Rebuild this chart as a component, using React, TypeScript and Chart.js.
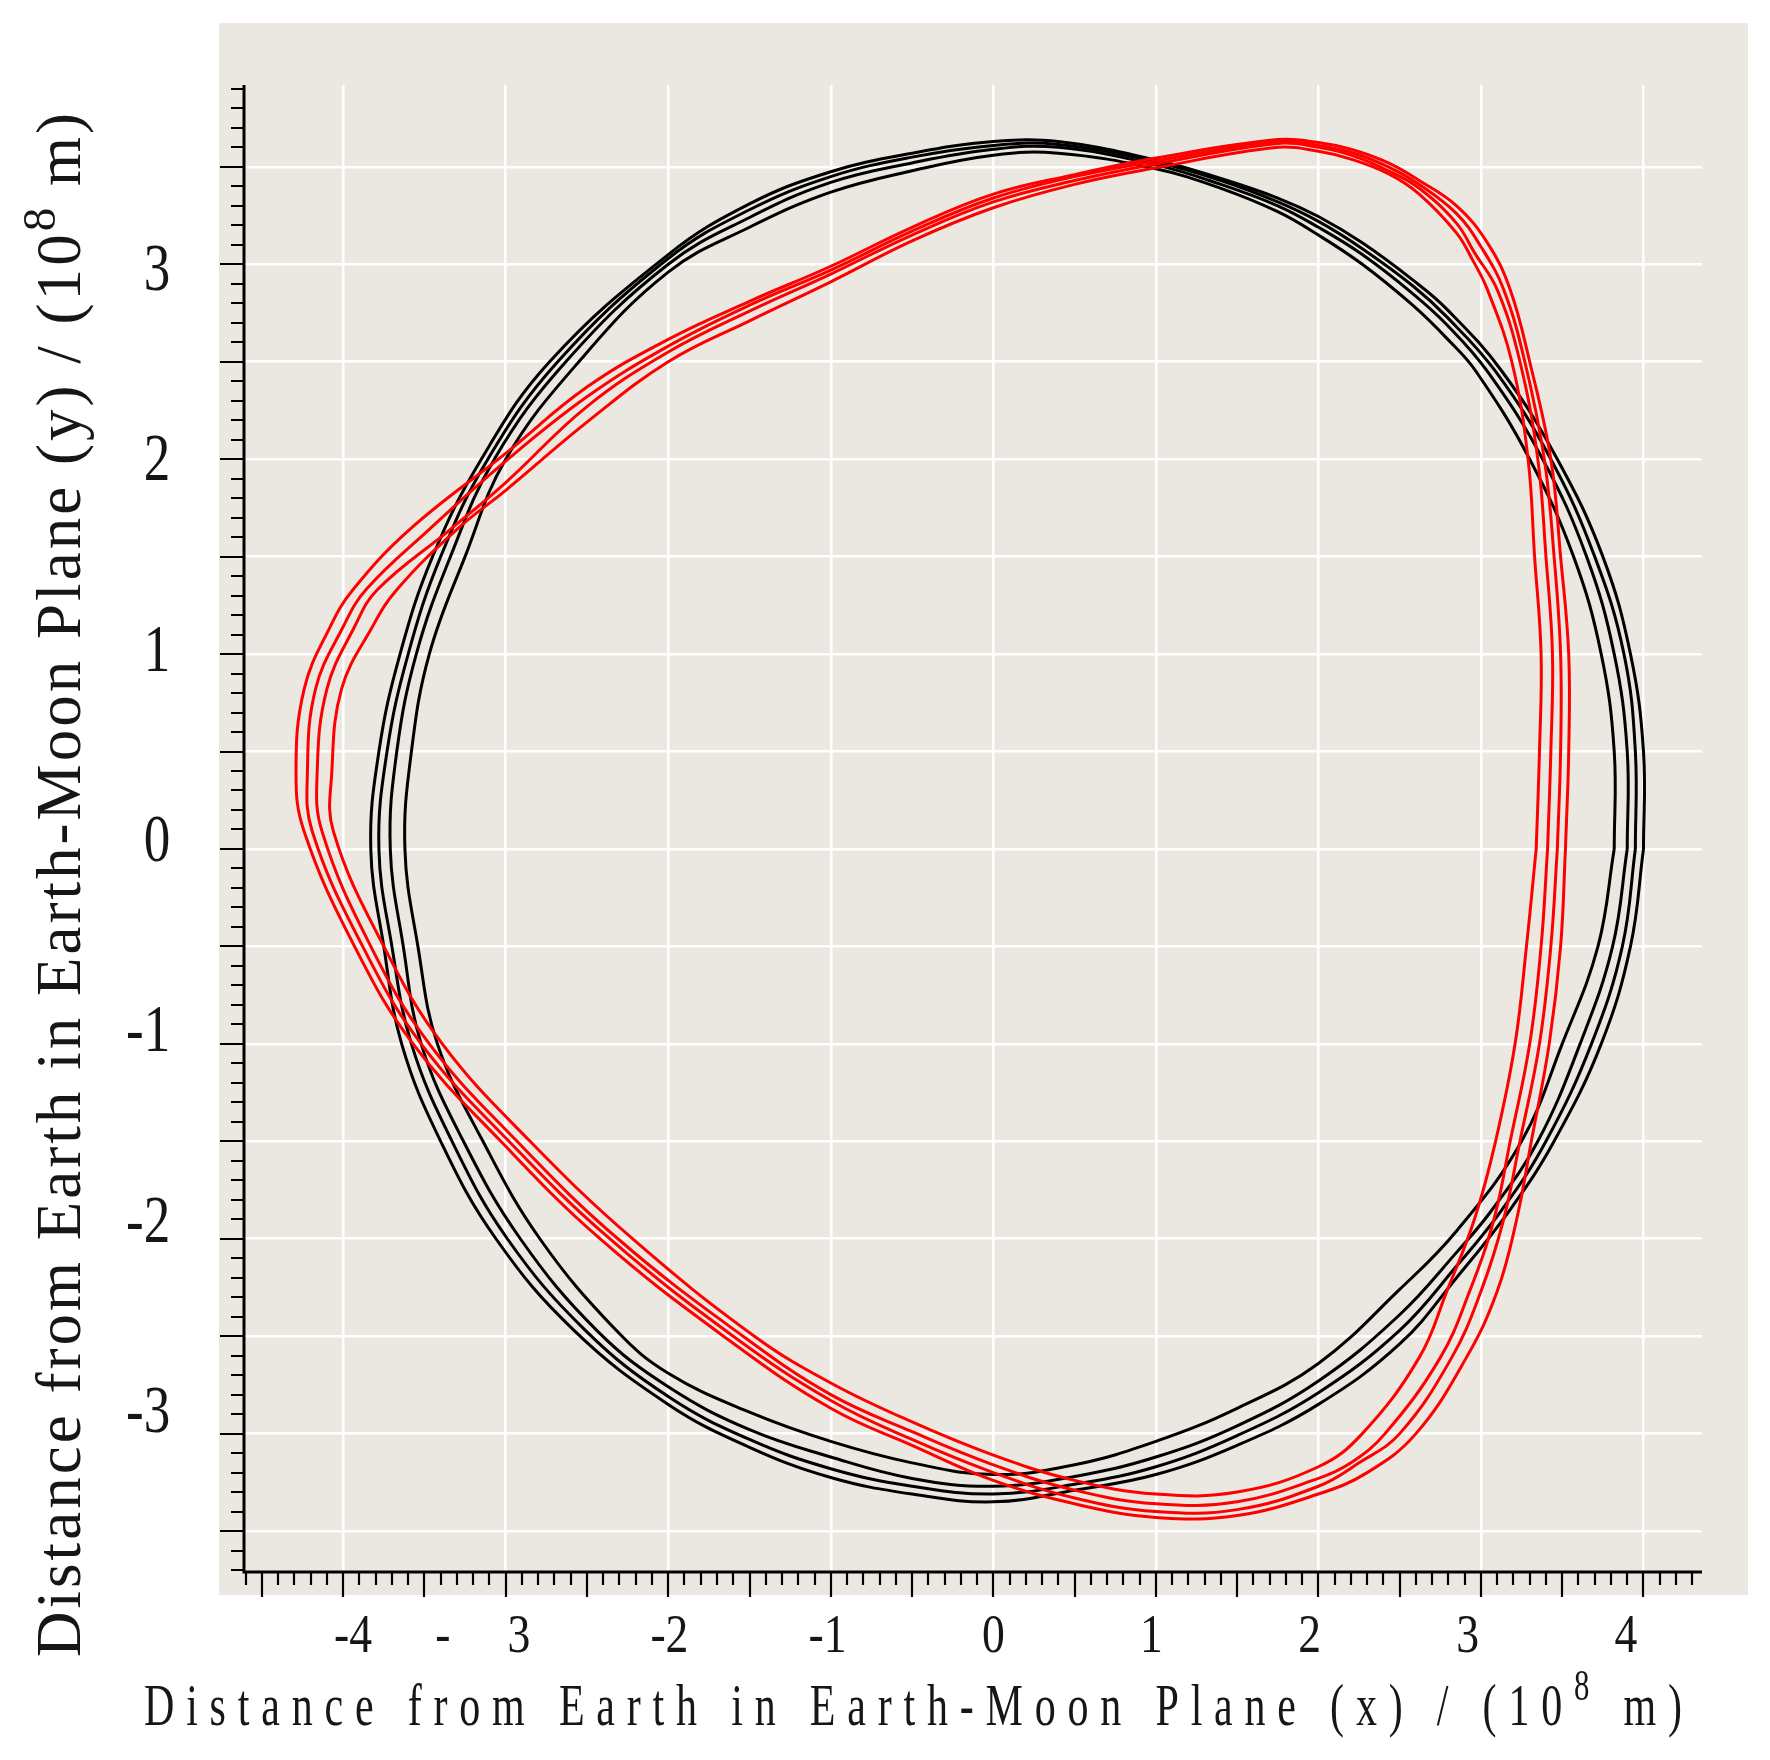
import React, { useEffect, useRef } from "react";
import { Chart, registerables } from "chart.js";

Chart.register(...registerables);

// ---- axis ranges (units of 10^8 m) ----
const xRange = [-4.61, 4.36];
const yRange = [-3.71, 3.92];
const xGridValues = [-4, -3, -2, -1, 0, 1, 2, 3, 4];
const yGridValues = [-3.5, -3, -2.5, -2, -1.5, -1, -0.5, 0, 0.5, 1, 1.5, 2, 2.5, 3, 3.5];
const xTickValues = [-4, -3, -2, -1, 0, 1, 2, 3, 4];
const xTickLabels = ["-4", "-     3", "-2", "-1", "0", "1", "2", "3", "4"];
const yTickValues = [-3, -2, -1, 0, 1, 2, 3];
const yTickLabels = ["-3", "-2", "-1", "0", "1", "2", "3"];
const xTitleParts = ["Distance from Earth in Earth-Moon Plane (x) / (10", "8", " m)"];
const yTitleParts = ["Distance from Earth in Earth-Moon Plane (y) / (10", "8", " m)"];

// ---- black orbit loops (x, y) : outer edge -> inner edge of the band ----
const blackLoopA = [[4.00,0.00],[4.00,0.50],[3.92,1.00],[3.75,1.50],[3.47,2.00],[3.13,2.45],[2.79,2.77],[2.58,2.92],[2.27,3.11],[2.00,3.245],[1.75,3.34],[1.40,3.44],[1.00,3.535],[0.40,3.63],[0.00,3.63],[-0.50,3.57],[-1.00,3.475],[-1.50,3.31],[-2.00,3.05],[-2.73,2.50],[-3.15,2.00],[-3.45,1.50],[-3.65,1.00],[-3.78,0.50],[-3.83,0.00],[-3.75,-0.50],[-3.64,-1.00],[-3.40,-1.50],[-3.06,-2.00],[-2.58,-2.47],[-2.00,-2.85],[-1.50,-3.07],[-1.00,-3.225],[-0.50,-3.31],[0.00,-3.35],[0.50,-3.29],[1.00,-3.21],[1.50,-3.06],[2.00,-2.85],[2.50,-2.54],[2.85,-2.20],[3.18,-1.85],[3.45,-1.50],[3.74,-1.00],[3.92,-0.50],[4.00,0.00]];
const blackLoopB = [[3.95,0.00],[3.95,0.50],[3.88,1.00],[3.70,1.50],[3.43,2.00],[3.09,2.45],[2.79,2.73],[2.58,2.89],[2.27,3.08],[2.00,3.22],[1.75,3.32],[1.40,3.43],[1.00,3.525],[0.40,3.615],[0.00,3.61],[-0.50,3.55],[-1.00,3.45],[-1.50,3.28],[-2.00,3.03],[-2.68,2.50],[-3.11,2.00],[-3.40,1.50],[-3.60,1.00],[-3.73,0.50],[-3.78,0.00],[-3.70,-0.50],[-3.58,-1.00],[-3.33,-1.50],[-2.99,-2.00],[-2.51,-2.47],[-2.00,-2.81],[-1.50,-3.03],[-1.00,-3.18],[-0.50,-3.27],[0.00,-3.31],[0.50,-3.26],[1.00,-3.17],[1.50,-3.01],[2.00,-2.79],[2.50,-2.47],[2.85,-2.14],[3.13,-1.85],[3.40,-1.50],[3.68,-1.00],[3.87,-0.50],[3.95,0.00]];
const blackLoopC = [[3.90,0.00],[3.90,0.50],[3.82,1.00],[3.65,1.50],[3.38,2.00],[3.04,2.45],[2.79,2.69],[2.58,2.85],[2.27,3.05],[2.00,3.19],[1.75,3.30],[1.40,3.41],[1.00,3.51],[0.40,3.60],[0.00,3.59],[-0.50,3.52],[-1.00,3.42],[-1.50,3.24],[-2.00,3.00],[-2.63,2.50],[-3.07,2.00],[-3.34,1.50],[-3.55,1.00],[-3.67,0.50],[-3.71,0.00],[-3.63,-0.50],[-3.52,-1.00],[-3.26,-1.50],[-2.91,-2.00],[-2.44,-2.47],[-2.00,-2.76],[-1.50,-2.98],[-1.00,-3.12],[-0.50,-3.23],[0.00,-3.27],[0.50,-3.22],[1.00,-3.12],[1.50,-2.96],[2.00,-2.73],[2.50,-2.39],[2.85,-2.07],[3.07,-1.85],[3.35,-1.50],[3.61,-1.00],[3.81,-0.50],[3.90,0.00]];
const blackLoopD = [[3.82,0.00],[3.82,0.50],[3.74,1.00],[3.57,1.50],[3.30,2.00],[2.97,2.45],[2.79,2.62],[2.58,2.79],[2.27,3.00],[2.00,3.15],[1.75,3.27],[1.40,3.39],[1.00,3.49],[0.40,3.57],[0.00,3.56],[-0.50,3.48],[-1.00,3.37],[-1.50,3.19],[-2.00,2.96],[-2.55,2.50],[-3.00,2.00],[-3.25,1.50],[-3.47,1.00],[-3.58,0.50],[-3.62,0.00],[-3.54,-0.50],[-3.42,-1.00],[-3.14,-1.50],[-2.79,-2.00],[-2.32,-2.47],[-2.00,-2.69],[-1.50,-2.89],[-1.00,-3.04],[-0.50,-3.15],[0.00,-3.21],[0.50,-3.16],[1.00,-3.04],[1.50,-2.87],[2.00,-2.64],[2.50,-2.26],[2.85,-1.96],[3.25,-1.50],[3.50,-1.00],[3.72,-0.50],[3.82,0.00]];

// ---- red orbit loops (x, y) : outer edge -> inner edge of the band ----
const redLoopA = [[3.52,0.00],[3.54,0.50],[3.54,1.00],[3.49,1.50],[3.43,2.00],[3.30,2.50],[3.18,2.87],[3.04,3.11],[2.85,3.30],[2.62,3.43],[2.43,3.52],[2.20,3.59],[2.00,3.625],[1.75,3.64],[1.00,3.545],[0.50,3.46],[0.00,3.36],[-0.50,3.19],[-1.00,2.99],[-1.50,2.81],[-2.00,2.615],[-2.50,2.37],[-3.00,2.03],[-3.59,1.64],[-3.94,1.33],[-4.08,1.14],[-4.24,0.82],[-4.29,0.39],[-4.24,0.09],[-3.93,-0.50],[-3.57,-1.00],[-3.03,-1.50],[-2.42,-2.00],[-1.66,-2.50],[-1.00,-2.87],[-0.50,-3.06],[0.00,-3.24],[0.50,-3.36],[1.00,-3.43],[1.50,-3.42],[2.00,-3.31],[2.30,-3.20],[2.60,-3.00],[2.91,-2.61],[3.10,-2.27],[3.22,-1.90],[3.31,-1.50],[3.42,-1.00],[3.49,-0.50],[3.52,0.00]];
const redLoopB = [[3.47,0.00],[3.49,0.50],[3.49,1.00],[3.45,1.50],[3.39,2.00],[3.27,2.50],[3.14,2.87],[3.00,3.09],[2.85,3.26],[2.62,3.41],[2.43,3.50],[2.20,3.575],[2.00,3.61],[1.75,3.63],[1.00,3.53],[0.50,3.45],[0.00,3.34],[-0.50,3.17],[-1.00,2.97],[-1.50,2.79],[-2.00,2.58],[-2.50,2.32],[-3.00,1.99],[-3.47,1.64],[-3.86,1.33],[-4.00,1.14],[-4.17,0.82],[-4.22,0.39],[-4.19,0.09],[-3.88,-0.50],[-3.52,-1.00],[-2.98,-1.50],[-2.36,-2.00],[-1.60,-2.50],[-1.00,-2.83],[-0.50,-3.03],[0.00,-3.20],[0.50,-3.33],[1.00,-3.40],[1.50,-3.39],[2.00,-3.27],[2.25,-3.15],[2.50,-3.00],[2.82,-2.61],[3.00,-2.27],[3.14,-1.90],[3.24,-1.50],[3.36,-1.00],[3.43,-0.50],[3.47,0.00]];
const redLoopC = [[3.41,0.00],[3.43,0.50],[3.44,1.00],[3.40,1.50],[3.35,2.00],[3.24,2.50],[3.10,2.87],[2.96,3.06],[2.85,3.21],[2.62,3.39],[2.43,3.48],[2.20,3.56],[2.00,3.60],[1.75,3.62],[1.00,3.515],[0.50,3.43],[0.00,3.32],[-0.50,3.15],[-1.00,2.95],[-1.50,2.76],[-2.00,2.55],[-2.50,2.27],[-3.00,1.88],[-3.34,1.64],[-3.79,1.33],[-3.93,1.14],[-4.10,0.82],[-4.16,0.39],[-4.13,0.09],[-3.83,-0.50],[-3.47,-1.00],[-2.93,-1.50],[-2.31,-2.00],[-1.54,-2.50],[-1.00,-2.80],[-0.50,-2.99],[0.00,-3.16],[0.50,-3.29],[1.00,-3.36],[1.50,-3.35],[2.00,-3.23],[2.20,-3.15],[2.41,-3.00],[2.75,-2.61],[2.93,-2.27],[3.08,-1.90],[3.18,-1.50],[3.30,-1.00],[3.37,-0.50],[3.41,0.00]];
const redLoopD = [[3.34,0.00],[3.36,0.50],[3.37,1.00],[3.33,1.50],[3.29,2.00],[3.19,2.50],[3.04,2.87],[2.95,3.02],[2.85,3.16],[2.62,3.36],[2.43,3.465],[2.20,3.54],[2.00,3.58],[1.75,3.60],[1.00,3.495],[0.50,3.41],[0.00,3.29],[-0.50,3.12],[-1.00,2.91],[-1.50,2.71],[-2.00,2.50],[-2.50,2.19],[-3.00,1.84],[-3.30,1.64],[-3.67,1.33],[-3.82,1.14],[-4.01,0.82],[-4.07,0.39],[-4.06,0.09],[-3.75,-0.50],[-3.39,-1.00],[-2.85,-1.50],[-2.22,-2.00],[-1.47,-2.50],[-1.00,-2.74],[-0.50,-2.94],[0.00,-3.11],[0.50,-3.24],[1.00,-3.31],[1.50,-3.30],[2.00,-3.17],[2.27,-3.00],[2.62,-2.61],[2.79,-2.27],[2.96,-1.90],[3.09,-1.50],[3.21,-1.00],[3.28,-0.50],[3.34,0.00]];

const FONT = '"Liberation Serif", "DejaVu Serif", "Times New Roman", serif';
const TEXT_COLOR = "#161616";

function toPoints(loop: number[][]) {
  return loop.map(([x, y]) => ({ x, y }));
}

function drawFittedText(
  ctx: CanvasRenderingContext2D,
  parts: string[],
  length: number,
  mainSize: number,
  supSize: number,
  rise: number,
  sx: number
) {
  const chars: { ch: string; sup: boolean }[] = [];
  parts.forEach((p, i) => {
    for (const ch of p) chars.push({ ch, sup: i === 1 });
  });
  let total = 0;
  const widths = chars.map((c) => {
    ctx.font = `${c.sup ? supSize : mainSize}px ${FONT}`;
    const w = ctx.measureText(c.ch).width * sx;
    total += w;
    return w;
  });
  const gap = (length - total) / (chars.length - 1);
  let pos = 0;
  chars.forEach((c, i) => {
    ctx.font = `${c.sup ? supSize : mainSize}px ${FONT}`;
    ctx.save();
    ctx.translate(pos, c.sup ? -rise : 0);
    ctx.scale(sx, 1);
    ctx.fillText(c.ch, 0, 0);
    ctx.restore();
    pos += widths[i] + gap;
  });
}

const decorPlugin = {
  id: "decor",
  beforeDraw(chart: any) {
    const { ctx, chartArea: ca, width, height } = chart;
    ctx.save();
    ctx.fillStyle = "#ffffff";
    ctx.fillRect(0, 0, width, height);
    ctx.fillStyle = "#ebe8e1";
    ctx.fillRect(ca.left - 25, ca.top - 62, ca.right + 46 - (ca.left - 25), ca.bottom + 23 - (ca.top - 62));
    ctx.restore();
  },
  afterDraw(chart: any) {
    const { ctx, chartArea: ca } = chart;
    const xs = chart.scales.x;
    const ys = chart.scales.y;
    ctx.save();
    // axis lines
    ctx.strokeStyle = "#000";
    ctx.lineWidth = 3;
    ctx.beginPath();
    ctx.moveTo(ca.left, ca.top);
    ctx.lineTo(ca.left, ca.bottom + 1.5);
    ctx.moveTo(ca.left - 1.5, ca.bottom);
    ctx.lineTo(ca.right, ca.bottom);
    ctx.stroke();
    // tick marks (major every 0.5, minor every 0.1)
    ctx.lineWidth = 2.2;
    ctx.beginPath();
    for (let k = -46; k <= 43; k++) {
      const px = Math.round(xs.getPixelForValue(k / 10));
      const len = k % 5 === 0 ? 25 : 13;
      ctx.moveTo(px, ca.bottom);
      ctx.lineTo(px, ca.bottom + len);
    }
    for (let k = -37; k <= 39; k++) {
      const py = Math.round(ys.getPixelForValue(k / 10));
      const len = k % 5 === 0 ? 24 : 13;
      ctx.moveTo(ca.left, py);
      ctx.lineTo(ca.left - len, py);
    }
    ctx.stroke();

    ctx.fillStyle = TEXT_COLOR;
    ctx.textBaseline = "alphabetic";
    // x tick labels: last glyph centred on a slightly compressed position
    const x0 = xs.getPixelForValue(0);
    const xSize = 55;
    const xSx = 0.83;
    ctx.font = `${xSize}px ${FONT}`;
    xTickValues.forEach((v, i) => {
      const label = xTickLabels[i];
      const cx = x0 + (xs.getPixelForValue(v) - x0) * 0.973;
      const lastW = ctx.measureText(label[label.length - 1]).width;
      ctx.save();
      ctx.translate(cx, ca.bottom + 61 + 0.338 * xSize);
      ctx.scale(xSx, 1);
      ctx.textAlign = "right";
      ctx.fillText(label, lastW / 2, 0);
      ctx.restore();
    });
    // y tick labels
    const y0 = ys.getPixelForValue(0);
    const ySize = 68;
    const ySx = 0.78;
    ctx.font = `${ySize}px ${FONT}`;
    yTickValues.forEach((v, i) => {
      const label = yTickLabels[i];
      const cy = y0 - 11 + (ys.getPixelForValue(v) - y0) * 0.977;
      const lastW = ctx.measureText(label[label.length - 1]).width;
      ctx.save();
      ctx.translate(ca.left - 87, cy + 0.338 * ySize);
      ctx.scale(ySx, 1);
      ctx.textAlign = "right";
      ctx.fillText(label, lastW / 2, 0);
      ctx.restore();
    });
    // x axis title
    ctx.textAlign = "left";
    ctx.save();
    ctx.translate(ca.left - 100, ca.bottom + 153);
    drawFittedText(ctx, xTitleParts, 1538, 60, 44, 25, 0.7);
    ctx.restore();
    // y axis title (rotated)
    ctx.save();
    ctx.translate(80, ca.bottom + 85);
    ctx.rotate(-Math.PI / 2);
    drawFittedText(ctx, yTitleParts, 1544, 63, 47, 25, 1);
    ctx.restore();
    ctx.restore();
  },
};

export default function App() {
  const canvasRef = useRef<HTMLCanvasElement | null>(null);

  useEffect(() => {
    const canvas = canvasRef.current;
    if (!canvas) return;
    const redLoops = [redLoopA, redLoopB, redLoopC, redLoopD];
    const blackLoops = [blackLoopA, blackLoopB, blackLoopC, blackLoopD];
    const datasets = [
      ...redLoops.map((loop, i) => ({
        label: `red ${i + 1}`,
        data: toPoints(loop),
        borderColor: "#ff0000",
        backgroundColor: "#ff0000",
      })),
      ...blackLoops.map((loop, i) => ({
        label: `black ${i + 1}`,
        data: toPoints(loop),
        borderColor: "#000000",
        backgroundColor: "#000000",
      })),
    ].map((d) => ({
      ...d,
      showLine: true,
      fill: false,
      borderWidth: 3,
      tension: 0.4,
      pointRadius: 0,
      pointHoverRadius: 0,
    }));

    const chart = new Chart(canvas, {
      type: "scatter",
      data: { datasets },
      options: {
        animation: false,
        responsive: false,
        devicePixelRatio: 1,
        events: [],
        layout: { padding: { left: 244, top: 85, right: 68, bottom: 188 } },
        plugins: { legend: { display: false }, tooltip: { enabled: false } },
        scales: {
          x: {
            type: "linear",
            min: xRange[0],
            max: xRange[1],
            ticks: { display: false },
            grid: { color: "#ffffff", lineWidth: 2.5, drawTicks: false },
            border: { display: false },
            afterBuildTicks: (s: any) => {
              s.ticks = xGridValues.map((v) => ({ value: v }));
            },
          },
          y: {
            type: "linear",
            min: yRange[0],
            max: yRange[1],
            ticks: { display: false },
            grid: { color: "#ffffff", lineWidth: 2.5, drawTicks: false },
            border: { display: false },
            afterBuildTicks: (s: any) => {
              s.ticks = yGridValues.map((v) => ({ value: v }));
            },
          },
        },
      },
      plugins: [decorPlugin],
    } as any);
    return () => chart.destroy();
  }, []);

  return (
    <div style={{ position: "absolute", left: 0, top: 0, width: 1770, height: 1760, background: "#fff" }}>
      <canvas ref={canvasRef} width={1770} height={1760} style={{ display: "block" }} />
    </div>
  );
}
